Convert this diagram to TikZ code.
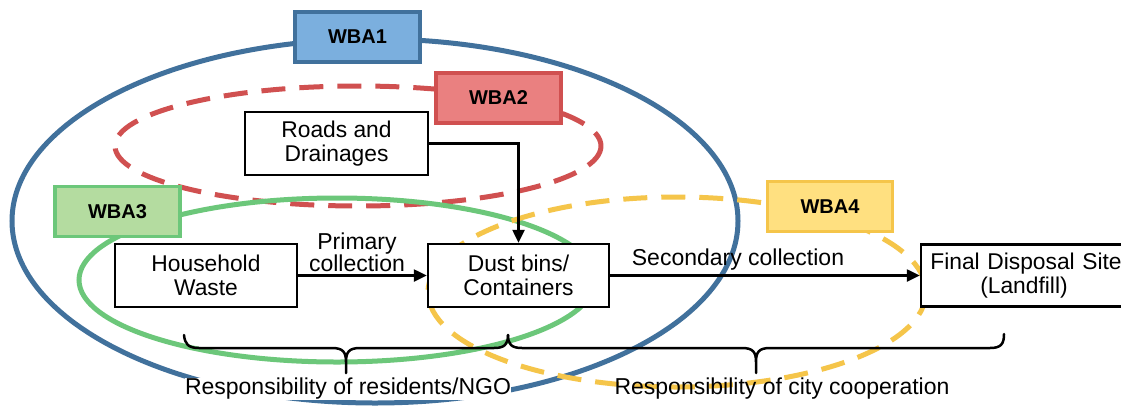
\documentclass[tikz,border=0pt]{standalone}
\usepackage{fontspec}
\setmainfont{Liberation Sans}
\usetikzlibrary{arrows.meta}
\definecolor{blueline}{HTML}{41719C}
\definecolor{bluefill}{HTML}{7BAFDE}
\definecolor{redline}{HTML}{D05050}
\definecolor{redfill}{HTML}{EA8080}
\definecolor{greenline}{HTML}{6CC77A}
\definecolor{greenfill}{HTML}{B4DCA0}
\definecolor{yellowline}{HTML}{F5C54A}
\definecolor{yellowfill}{HTML}{FFE080}
\begin{document}
\begin{tikzpicture}[x=1pt,y=-1pt,
  area/.style={line width=5pt},
  dashedarea/.style={line width=5pt, dash pattern=on 24pt off 14pt},
  tag/.style={draw, line width=3.5pt, minimum width=125pt, minimum height=50pt,
    inner sep=0pt, font=\fontsize{20}{24}\selectfont\bfseries},
  flowbox/.style={draw=black, fill=white, line width=2.5pt, inner sep=0pt,
    align=center, font=\fontsize{22.8}{24}\selectfont},
  lbl/.style={align=center, inner sep=0pt, font=\fontsize{23}{21}\selectfont},
  arr/.style={line width=2.5pt, -{Triangle[length=13pt,width=12pt]}},
  brace/.style={line width=2.5pt, line cap=round, line join=round}]
\clip (0,0) rectangle (1121,405);
\fill[white] (0,0) rectangle (1121,405);

% activity areas
\draw[area, blueline] (375,221) ellipse [x radius=363, y radius=182];
\draw[dashedarea, redline] (358,146) ellipse [x radius=243, y radius=60];
\draw[area, greenline] (337,280) ellipse [x radius=258, y radius=82];
\draw[dashedarea, yellowline] (677,292) ellipse [x radius=249, y radius=95];

% area tags
\node[tag, draw=blueline, fill=bluefill] (wba1) at (357.5,37) {WBA1};
\node[tag, draw=redline, fill=redfill] (wba2) at (498.5,98) {WBA2};
\node[tag, draw=greenline, fill=greenfill] (wba3) at (117.5,211.5) {WBA3};
\node[tag, draw=yellowline, fill=yellowfill] (wba4) at (830,206.5) {WBA4};

% waste flow
\node[flowbox, minimum width=183pt, minimum height=63pt] (roads) at (336.5,143.5)
  {Roads and\\Drainages};
\node[flowbox, minimum width=182pt, minimum height=63pt] (house) at (206,275.5)
  {Household\\Waste};
\node[flowbox, minimum width=181pt, minimum height=63pt] (bins) at (518.5,275.5)
  {Dust bins/\\Containers};
\node[flowbox, minimum width=212pt, minimum height=62pt, text width=212pt] (site) at (1027,275.5)
  {\hspace*{-2pt}Final Disposal Site\\\hspace*{-6pt}(Landfill)};

\draw[arr] (house.east) -- (bins.west);
\draw[arr] (roads.east) -| (bins.north);
\draw[arr] (bins.east) -- (site.west);

\node[lbl] (primary) at (357,252) {Primary\\collection};
\node[lbl] (secondary) at (738,260) {Secondary collection};

% responsibility braces
\coordinate (b1l) at (184,335);
\coordinate (b1m) at (346,373);
\coordinate (b1r) at (508,335);
\coordinate (b2m) at (756,373);
\coordinate (b2r) at (1004,334);
\draw[brace] (b1l) .. controls (185,344) and (188,348) .. (199,348)
  -- (332,348) .. controls (343,348) and (346,352) .. (346,362) -- (b1m)
  (346,362) .. controls (346,352) and (349,348) .. (360,348)
  -- (494,348) .. controls (505,348) and (508,344) .. (b1r);
\draw[brace] (b1r) .. controls (508,344) and (511,348) .. (522,348)
  -- (742,348) .. controls (753,348) and (756,352) .. (756,362) -- (b2m)
  (756,362) .. controls (756,352) and (759,348) .. (770,348)
  -- (990,348) .. controls (1001,348) and (1004,344) .. (b2r);

\node[lbl, fill=white] (resid) at (348,389) {Responsibility of residents/NGO};
\node[lbl] (city) at (782,389) {Responsibility of city cooperation};
\end{tikzpicture}
\end{document}
